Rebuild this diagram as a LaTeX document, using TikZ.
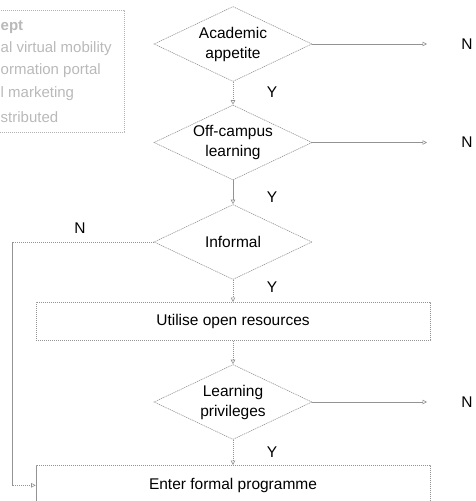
\documentclass[tikz,border=0pt]{standalone}
\usepackage{fontspec}
\setmainfont{Liberation Sans}
\usetikzlibrary{shapes.geometric,arrows.meta}
\begin{document}
\begin{tikzpicture}[x=1pt,y=-1pt,
  line/.style={draw=gray!85, line width=0.6pt, dash pattern=on 1.2pt off 0.8pt},
  dia/.style={shape=diamond, line, aspect=2.1, inner sep=0pt, minimum width=158pt, minimum height=75pt, align=center, font=\fontsize{15.5}{20}\selectfont},
  proc/.style={rectangle, line, minimum width=394pt, inner sep=0pt, anchor=north, align=center, font=\fontsize{15.5}{19}\selectfont},
  lbl/.style={inner sep=0pt, font=\fontsize{15.5}{19}\selectfont},
  arr/.style={line, -{Triangle[open,length=4.5pt,width=4.5pt]}},
  note/.style={inner sep=0pt, anchor=west, text=gray!55, font=\fontsize{15}{22}\selectfont}
]
\useasboundingbox (0,0) rectangle (475,501);
\clip (0,0) rectangle (475,501);

% side note box (cropped)
\draw[line, draw=gray!60] (-20,10) rectangle (124,132);
\node[note] (t0) at (0.5,27) {\bfseries ept};
\node[note] (t1) at (0.5,49) {al virtual mobility};
\node[note] (t2) at (0.5,71) {ormation portal};
\node[note] (t3) at (0.5,94) {l marketing};
\node[note] (t4) at (0.5,117) {stributed};

% decisions
\node[dia] (d1) at (233,44) {Academic\\appetite};
\node[dia] (d2) at (233,142.5) {Off-campus\\learning};
\node[dia] (d3) at (233,242) {Informal};
\node[proc, minimum height=38pt] (b1) at (233,302) {Utilise open resources};
\node[dia] (d4) at (233,402) {Learning\\privileges};
\node[proc, minimum height=40pt] (b2) at (233,465) {Enter formal programme};

% free ends
\coordinate (e1) at (427,44);
\coordinate (e2) at (427,142.5);
\coordinate (e4) at (427,402);
\coordinate (c1) at (12,242);

% labels
\node[lbl] (n1) at (467,44) {N};
\node[lbl] (n2) at (467,142.5) {N};
\node[lbl] (n4) at (467,402) {N};
\node[lbl] (n3) at (80,228) {N};
\node[lbl] (y1) at (272,92) {Y};
\node[lbl] (y2) at (272,197) {Y};
\node[lbl] (y3) at (272,287) {Y};
\node[lbl] (y4) at (272,452) {Y};

% connectors
\draw[arr] (d1.east) -- (e1);
\draw[arr] (d2.east) -- (e2);
\draw[arr] (d4.east) -- (e4);
\draw[arr] (d1.south) -- (d2.north);
\draw[arr] (d2.south) -- (d3.north);
\draw[arr] (d3.south) -- (b1.north);
\draw[arr] (b1.south) -- (d4.north);
\draw[arr] (d4.south) -- (b2.north);
\draw[arr] (d3.west) -- (c1) |- (b2.west);
\end{tikzpicture}
\end{document}
